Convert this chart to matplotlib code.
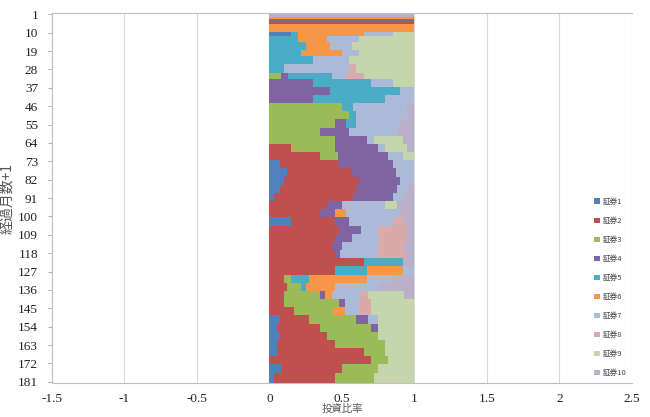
import numpy as np
import matplotlib
matplotlib.use("Agg")
from matplotlib import pyplot as plt

# months covered by each run of identical portfolio weights (sums to 181)
run_months = [2, 1, 1, 1, 4, 2, 3, 4, 3, 4, 4, 3] + [4] * 36 + [5]

# weight of each security per run
s1 = [0, 0, 0, 0, 0, .15, 0, 0, 0, 0, 0, 0,
      0, 0, 0, 0, 0, 0, 0, 0, 0, 0, .07, .12, .10, .07, .03, 0, 0, .15,
      0, 0, 0, 0, 0, 0, 0, 0, 0, 0, 0, .07, .05, .07, .05, .05, 0, .08, .03]
s2 = [0, 0, 0, 1, 0, 0, 0, 0, 0, 0, 0, 0,
      0, 0, 0, 0, 0, 0, 0, 0, .15, .35, .40, .45, .52, .53, .55, .40, .35, .30,
      .48, .45, .43, .45, .65, .45, .10, .12, .10, .10, .17, .20, .30, .33, .40, .60, .70, .42, .42]
s3 = [0, 0, 0, 0, 0, 0, 0, 0, 0, 0, 0, .08,
      0, 0, 0, .50, .55, .45, .35, .45, .30, .12, 0, 0, 0, 0, 0, 0, 0, 0,
      0, 0, 0, 0, 0, 0, .05, .10, .25, .38, .27, .33, .35, .35, .35, .15, .12, .25, .27]
s4 = [0, 0, 1, 0, 0, 0, 0, 0, 0, 0, 0, .05,
      .30, .42, .30, 0, 0, .08, .20, .22, .30, .35, .38, .30, .28, .28, .27, .10, .10, .10,
      .15, .12, .07, .04, 0, 0, 0, 0, .03, .04, 0, .08, .05, 0, 0, 0, 0, 0, 0]
s5 = [0, 0, 0, 0, 0, .05, .20, .25, .22, .30, .10, .30,
      .40, .48, .50, .08, .05, .07, 0, 0, 0, 0, 0, 0, 0, 0, 0, 0, 0, 0,
      0, 0, 0, 0, .27, .22, .12, .03, 0, 0, 0, 0, 0, 0, 0, 0, 0, 0, 0]
s6 = [0, 1, 0, 0, 1, .45, .20, .17, .28, 0, 0, 0,
      0, 0, 0, 0, 0, 0, 0, 0, 0, 0, 0, 0, 0, 0, 0, 0, .08, 0,
      0, 0, 0, 0, 0, .25, .40, .20, .05, 0, .08, 0, 0, 0, 0, 0, 0, 0, 0]
s7 = [0, 0, 0, 0, 0, .20, .22, .15, .12, .25, .45, .10,
      .15, .10, .20, .37, .35, .30, .33, .05, .05, .10, .15, .13, .10, .07, .08, .30, .37, .30,
      .12, .18, .25, .25, 0, .08, .18, .30, .20, .10, .10, .07, 0, 0, 0, 0, 0, 0, 0]
s8 = [0, 0, 0, 0, 0, 0, 0, 0, 0, 0, .05, .12,
      0, 0, 0, 0, 0, 0, 0, 0, 0, 0, 0, 0, 0, 0, 0, 0, 0, .08,
      .20, .20, .17, .20, 0, 0, 0, 0, .05, .08, .08, 0, 0, 0, 0, 0, 0, 0, 0]
s9 = [0, 0, 0, 0, 0, .15, .38, .43, .38, .45, .40, .35,
      .15, 0, 0, 0, 0, 0, 0, .20, .15, .08, 0, 0, 0, 0, 0, .08, 0, 0,
      0, 0, 0, 0, 0, 0, 0, 0, .25, .30, .30, .25, .25, .25, .20, .20, .18, .25, .28]
s10 = [1, 0, 0, 0, 0, 0, 0, 0, 0, 0, 0, 0,
       0, 0, 0, .05, .05, .10, .12, .08, .05, 0, 0, 0, 0, .05, .07, .12, .10, .07,
       .05, .05, .08, .06, .08, 0, .15, .25, .07, 0, 0, 0, 0, 0, 0, 0, 0, 0, 0]

series = [s1, s2, s3, s4, s5, s6, s7, s8, s9, s10]
names = ["証券%d" % (i + 1) for i in range(10)]
colors = ["#4F81BD", "#C0504D", "#9BBB59", "#8064A2", "#4BACC6",
          "#F79646", "#AABAD7", "#D9AAA9", "#C6D6AC", "#BAB0C9"]

n_months = sum(run_months)
rows = np.arange(n_months)

fig = plt.figure(figsize=(6.5, 4.17), dpi=100)
ax = fig.add_axes([0.08, 0.082, 0.892, 0.886])

left = np.zeros(n_months)
for vals, name, col in zip(series, names, colors):
    w = np.repeat(np.array(vals, dtype=float), run_months)
    ax.barh(rows, w, left=left, height=1.0, color=col, label=name, linewidth=0)
    left += w

ax.set_xlim(-1.5, 2.5)
ax.set_ylim(n_months - 0.5, -0.5)
ax.set_xticks(np.arange(-1.5, 2.51, 0.5))
ax.set_xticklabels(["-1.5", "-1", "-0.5", "0", "0.5", "1", "1.5", "2", "2.5"])
ax.set_yticks(rows[::9])
ax.set_yticklabels([str(r + 1) for r in rows[::9]])

serif = "Liberation Serif"
for lab in ax.get_xticklabels() + ax.get_yticklabels():
    lab.set_fontfamily(serif)
    lab.set_fontsize(9.5)
    lab.set_color("#222222")

ax.tick_params(axis="y", length=3, width=0.6, color="#A0A0A0", pad=7)
ax.tick_params(axis="x", length=0, pad=7)

ax.grid(axis="x", color="#D9D9D9", linewidth=0.8)
ax.set_axisbelow(True)
for side in ["left", "bottom", "top"]:
    ax.spines[side].set_color("#BFBFBF")
    ax.spines[side].set_linewidth(0.8)
ax.spines["right"].set_visible(False)

cjk = ["Noto Sans CJK JP", "DejaVu Sans"]
ax.set_ylabel("経過月数+1", family=cjk, fontsize=10, color="#555555", labelpad=3)
ax.set_xlabel("投資比率", family=cjk, fontsize=7.5, color="#555555")
ax.xaxis.set_label_coords(0.5, -0.058)

leg = ax.legend(loc="lower right", bbox_to_anchor=(1.0, 0.0), frameon=False,
                prop={"family": cjk, "size": 5.5},
                handlelength=0.7, handleheight=0.7, handletextpad=0.4,
                labelspacing=1.45, borderaxespad=0.3)
for t in leg.get_texts():
    t.set_color("#444444")

fig.savefig("out.png", dpi=100)
